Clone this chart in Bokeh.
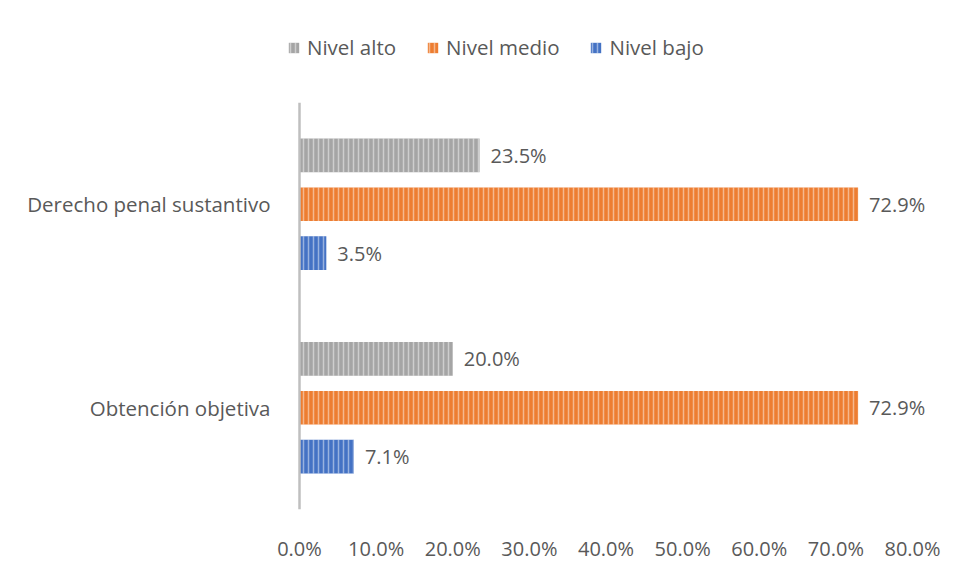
from bokeh.plotting import figure
from bokeh.layouts import column
from bokeh.models import (FactorRange, Range1d, FixedTicker, NumeralTickFormatter,
                          ColumnDataSource, Legend, LegendItem, LabelSet, Span)
from bokeh.transform import dodge
from bokeh.core.properties import value
from bokeh.embed import file_html
from bokeh.resources import INLINE

categories = ["Obtención objetiva", "Derecho penal sustantivo"]
series = ["Nivel alto", "Nivel medio", "Nivel bajo"]
nivel_alto = [0.200, 0.235]
nivel_medio = [0.729, 0.729]
nivel_bajo = [0.071, 0.035]
x_ticks = [0.0, 0.1, 0.2, 0.3, 0.4, 0.5, 0.6, 0.7, 0.8]

colors = ["#a5a5a5", "#ed7d31", "#4472c4"]
offsets = [0.24, 0.0, -0.24]
values = [nivel_alto, nivel_medio, nivel_bajo]

FONT = "Open Sans"
TXT = "#595959"
FS = "20px"

HATCH = dict(hatch_pattern="vertical_line", hatch_color="white", hatch_alpha=0.45,
             hatch_scale=5, hatch_weight=1.5)

# ---- legend strip (separate figure above the chart) ----
lg = figure(width=942, height=70, output_backend="svg", toolbar_location=None,
            x_range=Range1d(0, 1), y_range=Range1d(0, 1),
            min_border_left=280, min_border_right=0, min_border_top=0, min_border_bottom=0,
            x_axis_location=None, y_axis_location=None)
lg.outline_line_color = None
lg.xgrid.grid_line_color = None
lg.ygrid.grid_line_color = None
lg_items = []
for name, col in zip(series, colors):
    # off-range placeholder glyphs: only their legend swatches are seen
    r = lg.hbar(y=[-10], right=[-10], left=-10, height=0.1, fill_color=col,
                line_color=None, **HATCH)
    lg_items.append(LegendItem(label=name, renderers=[r]))
legend = Legend(items=lg_items, orientation="horizontal", location=(7, 9),
                padding=0, margin=0, spacing=30, label_standoff=7,
                glyph_width=13, glyph_height=13, label_height=20,
                border_line_color=None, background_fill_alpha=0,
                label_text_font=FONT, label_text_font_size="20.5px", label_text_color=TXT)
lg.add_layout(legend, "center")

# ---- main chart ----
PX = (912 - 299) / 0.8
p = figure(width=942, height=494, output_backend="svg", toolbar_location=None,
           y_range=FactorRange(factors=categories),
           x_range=Range1d(-(299 - 280) / PX, (942 - 299) / PX),
           min_border_left=280, min_border_right=0, min_border_top=32,
           min_border_bottom=34)
p.outline_line_color = None
p.xgrid.grid_line_color = None
p.ygrid.grid_line_color = None

p.add_layout(Span(location=0, dimension="height", line_color="#bfbfbf", line_width=2.5))

for name, vals, col, off in zip(series, values, colors, offsets):
    src = ColumnDataSource(dict(cat=categories, v=vals,
                                lab=[f"{v*100:.1f}%" for v in vals]))
    p.hbar(y=dodge("cat", off, range=p.y_range), right="v", left=0, height=0.165,
           source=src, fill_color=col, line_color=None, **HATCH)
    labels = LabelSet(x="v", y=dodge("cat", off, range=p.y_range), text="lab", source=src,
                      x_offset=11, text_baseline="middle", text_align="left",
                      text_font=value(FONT), text_font_size=FS, text_color=TXT)
    p.add_layout(labels)

p.xaxis.ticker = FixedTicker(ticks=x_ticks)
p.xaxis.formatter = NumeralTickFormatter(format="0.0%")
p.xaxis.axis_line_color = None
p.xaxis.major_tick_line_color = None
p.xaxis.minor_tick_line_color = None
p.xaxis.major_label_standoff = 19
p.xaxis.major_label_text_font = FONT
p.xaxis.major_label_text_font_size = FS
p.xaxis.major_label_text_color = TXT

p.yaxis.axis_line_color = None
p.yaxis.major_tick_line_color = None
p.yaxis.minor_tick_line_color = None
p.yaxis.major_label_standoff = 4
p.yaxis.major_label_text_font = FONT
p.yaxis.major_label_text_font_size = "20.5px"
p.yaxis.major_label_text_color = TXT

layout = column(lg, p, spacing=0)
open("out.html", "w").write(file_html(layout, INLINE))
